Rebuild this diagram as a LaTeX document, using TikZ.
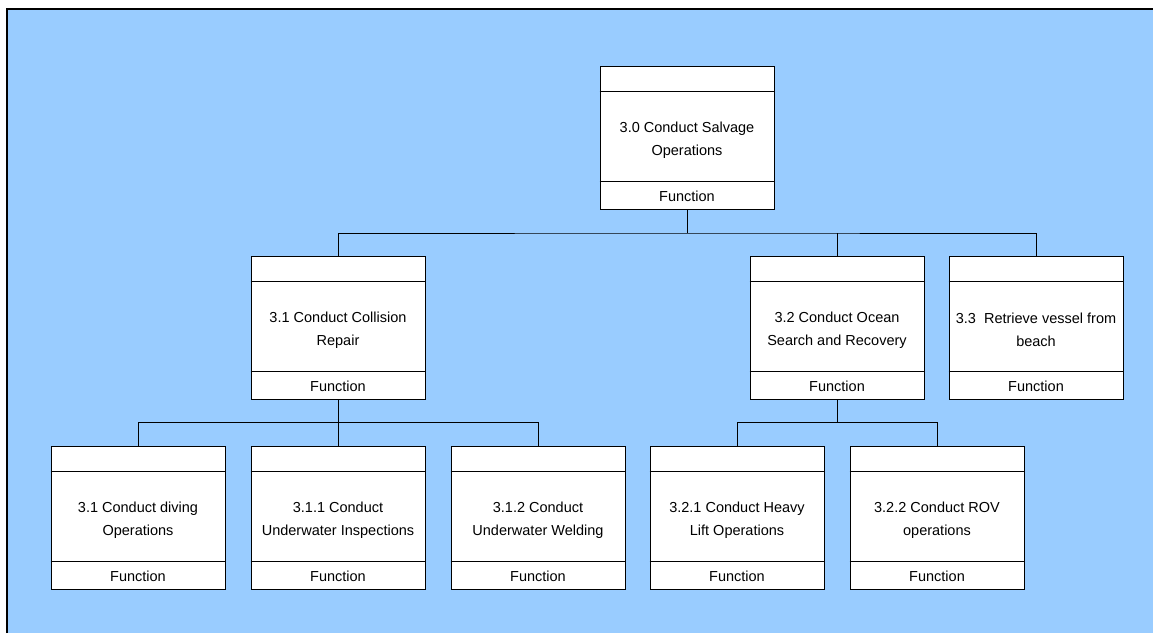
\documentclass[tikz,border=0pt]{standalone}
\usepackage{fontspec}
\setmainfont{Liberation Sans}
\definecolor{bgblue}{HTML}{99CCFF}
\newcommand\FuncBox[4]{%
  \node[fnbox] (#1) at (#2,#3) {};
  \draw[sep] ([yshift=-25pt]#1.north west) -- ([yshift=-25pt]#1.north east);
  \draw[sep] ([yshift=28.5pt]#1.south west) -- ([yshift=28.5pt]#1.south east);
  \node[lbl] (#1-t) at ([yshift=-74pt]#1.north) {#4};
  \node[lbl] (#1-f) at ([yshift=14pt]#1.south) {Function};
}
\begin{document}
\begin{tikzpicture}[x=1pt,y=-1pt,
  fnbox/.style={draw=black,fill=white,line width=1pt,minimum width=174pt,minimum height=143pt,inner sep=0pt,anchor=north},
  sep/.style={draw=black,line width=1pt},
  lbl/.style={align=center,font=\fontsize{14.5}{23}\selectfont,inner sep=0pt},
  conn/.style={draw=black,line width=1pt}]
\useasboundingbox (0,0) rectangle (1153,633);
\fill[white] (0,0) rectangle (1153,633);
\fill[bgblue] (7,9) rectangle (1153,633);
\draw[line width=2.5pt] (7,633) -- (7,9) -- (1153,9);

\FuncBox{top}{687}{66}{3.0 Conduct Salvage\\Operations}
\FuncBox{b31}{338}{256}{3.1 Conduct Collision\\Repair}
\FuncBox{b32}{837}{256}{3.2 Conduct Ocean\\Search and Recovery}
\FuncBox{b33}{1036}{256}{3.3\ \ Retrieve vessel from\\beach}
\FuncBox{c1}{138}{446}{3.1 Conduct diving\\Operations}
\FuncBox{c2}{338}{446}{3.1.1 Conduct\\Underwater Inspections}
\FuncBox{c3}{538}{446}{3.1.2 Conduct\\Underwater Welding}
\FuncBox{c4}{737}{446}{3.2.1 Conduct Heavy\\Lift Operations}
\FuncBox{c5}{937}{446}{3.2.2 Conduct ROV\\operations}

\coordinate (j0) at (687,233);
\draw[conn] (top.south) -- (j0);
\draw[conn] (b31.north) |- (j0) -| (b33.north);
\draw[conn] (b32.north) -- (b32.north |- j0);

\coordinate (j1) at (338,422);
\draw[conn] (b31.south) -- (j1);
\draw[conn] (c1.north) |- (j1) -| (c3.north);
\draw[conn] (c2.north) -- (j1);

\coordinate (j2) at (837,422);
\draw[conn] (b32.south) -- (j2);
\draw[conn] (c4.north) |- (j2) -| (c5.north);
\end{tikzpicture}
\end{document}
